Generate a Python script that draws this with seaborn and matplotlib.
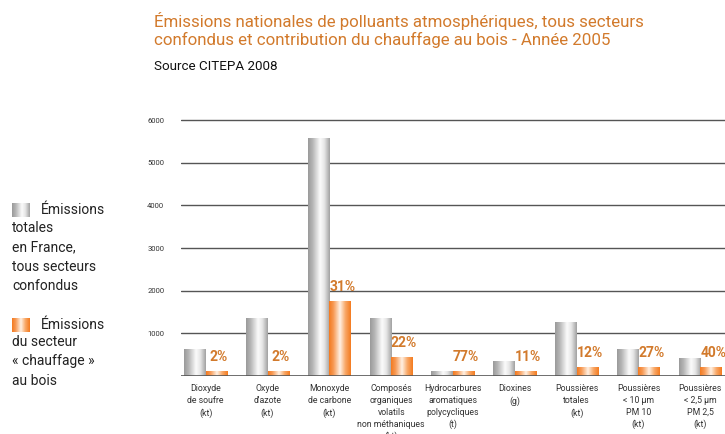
import numpy as np
import pandas as pd
import matplotlib
matplotlib.use("Agg")
import matplotlib.pyplot as plt
from matplotlib.colors import to_rgb
from matplotlib.transforms import ScaledTranslation
import seaborn as sns

# ---- data ----
categories = [
    "Dioxyde\nde soufre\n(kt)",
    "Oxyde\nd'azote\n(kt)",
    "Monoxyde\nde carbone\n(kt)",
    "Composés\norganiques\nvolatils\nnon méthaniques\n(kt)",
    "Hydrocarbures\naromatiques\npolycycliques\n(t)",
    "Dioxines\n(g)",
    "Poussières\ntotales\n(kt)",
    "Poussières\n< 10 µm\nPM 10\n(kt)",
    "Poussières\n< 2,5 µm\nPM 2,5\n(kt)",
]
total_france = [630, 1350, 5590, 1350, 125, 360, 1255, 625, 415]
chauffage_bois = [125, 125, 1765, 450, 125, 125, 220, 220, 220]
part_labels = ["2%", "2%", "31%", "22%", "77%", "11%", "12%", "27%", "40%"]
y_ticks = [1000, 2000, 3000, 4000, 5000, 6000]
series = ["Émissions totales", "Émissions chauffage au bois"]

title = ("Émissions nationales de polluants atmosphériques, tous secteurs\n"
         "confondus et contribution du chauffage au bois - Année 2005")
subtitle = "Source CITEPA 2008"
legend1 = "totales\nen France,\ntous secteurs\nconfondus"
legend2 = "du secteur\n« chauffage »\nau bois"

df = pd.DataFrame({
    "cat": categories * 2,
    "value": total_france + chauffage_bois,
    "serie": [series[0]] * len(categories) + [series[1]] * len(categories),
})

sns.set_theme(style="white")
plt.rcParams["font.family"] = ["Roboto", "DejaVu Sans"]

ORANGE_TXT = "#D27A2C"
GRID = "#555555"

fig = plt.figure(figsize=(7.25, 4.34), dpi=100)
ax = fig.add_axes([181 / 725, 1 - 376 / 434, 1 - 181 / 725, 258.1 / 434])

sns.barplot(data=df, x="cat", y="value", hue="serie", order=categories,
            hue_order=series, palette=["#BBBBBB", "#F47B20"], width=0.7,
            ax=ax, legend=False, saturation=1, zorder=3)


def gradient(stops, n=64):
    t = np.linspace(0, 1, n)
    pos = [s[0] for s in stops]
    cols = np.array([to_rgb(s[1]) for s in stops])
    img = np.stack([np.interp(t, pos, cols[:, i]) for i in range(3)], axis=-1)
    return img[np.newaxis, :, :]


gray_grad = gradient([(0, "#9a9a9a"), (0.2, "#b4b4b4"), (0.55, "#fbfbfb"),
                      (0.75, "#e6e6e6"), (1, "#a2a2a2")])
orange_grad = gradient([(0, "#F47B20"), (0.2, "#F79A55"), (0.5, "#FFF1E4"),
                        (0.75, "#F8A867"), (1, "#F47B20")])

for cont, grad in zip(ax.containers, [gray_grad, orange_grad]):
    for p in cont.patches:
        x0, y0 = p.get_x(), p.get_y()
        w, h = p.get_width(), p.get_height()
        im = ax.imshow(grad, extent=(x0, x0 + w, y0, y0 + h), aspect="auto",
                       zorder=3.5, interpolation="bilinear")
        im.set_clip_path(p)
        p.set_facecolor("none")
        p.set_edgecolor("none")

# percentage labels above orange bars
for p, lab in zip(ax.containers[1].patches, part_labels):
    ax.annotate(lab, (p.get_x() + p.get_width() / 2, p.get_height()),
                xytext=(1.5, 5), textcoords="offset points", ha="center",
                va="bottom", color=ORANGE_TXT, fontsize=10, fontweight="bold")

ax.set_xlim(-0.4, 8.4)
ax.set_ylim(0, 6050)
ax.set_yticks(y_ticks)
ax.set_yticklabels([str(v) for v in y_ticks], fontsize=5.5, color="#333333")
for lab in ax.get_yticklabels():
    lab.set_transform(lab.get_transform() +
                      ScaledTranslation(0, 4.5 / 72, fig.dpi_scale_trans))
ax.tick_params(axis="y", length=0, pad=12)
ax.set_xticks(range(len(categories)))
ax.set_xticklabels(categories, fontsize=6.3, color="#333333", linespacing=1.4,
                   va="top")
ax.tick_params(axis="x", length=0, pad=6)
ax.set_xlabel("")
ax.set_ylabel("")
for s in ax.spines.values():
    s.set_visible(False)
for v in y_ticks:
    ax.axhline(v, color=GRID, lw=1.0, zorder=1)
ax.axhline(0, color=GRID, lw=1.2, zorder=5)

# titles
fig.text(154 / 725, 1 - 12 / 434, title, ha="left", va="top", fontsize=12.2,
         color=ORANGE_TXT, linespacing=1.15)
fig.text(154 / 725, 1 - 67 / 434, subtitle, ha="left", va="center",
         fontsize=9.6, color="#111111")

# legend
def legend_square(y_top, grad):
    lax = fig.add_axes([12 / 725, 1 - (y_top + 14) / 434, 18 / 725, 14 / 434])
    lax.imshow(grad, aspect="auto", interpolation="bilinear")
    lax.axis("off")


legend_square(203, gray_grad)
legend_square(318, orange_grad)
fig.text(41 / 725, 1 - 210 / 434, "Émissions", ha="left", va="center",
         fontsize=10, color="#222222")
fig.text(12 / 725, 1 - 221 / 434, legend1, ha="left", va="top", fontsize=10,
         color="#222222", linespacing=1.5)
fig.text(41 / 725, 1 - 325 / 434, "Émissions", ha="left", va="center",
         fontsize=10, color="#222222")
fig.text(12 / 725, 1 - 335 / 434, legend2, ha="left", va="top", fontsize=10,
         color="#222222", linespacing=1.5)

fig.savefig("out.png", dpi=100)
